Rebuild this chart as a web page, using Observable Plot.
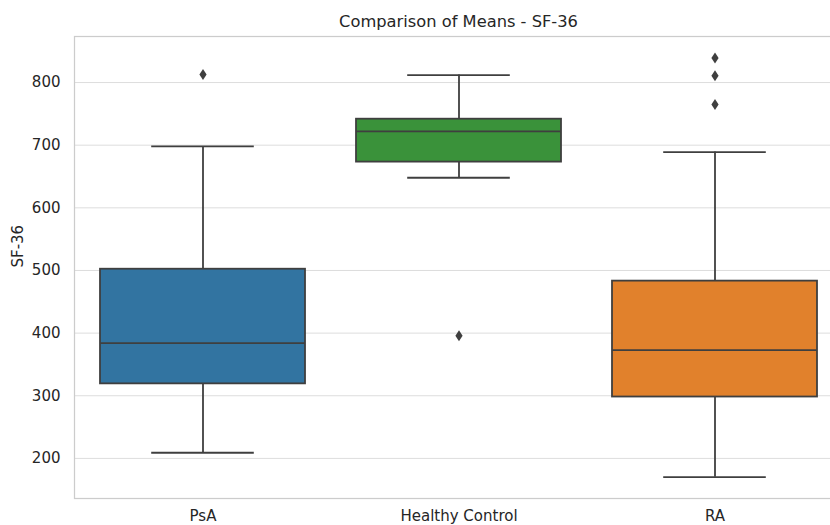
<!DOCTYPE html>
<html>
<head>
<meta charset="utf-8">
<script src="https://cdn.jsdelivr.net/npm/d3@7"></script>
<script src="https://cdn.jsdelivr.net/npm/@observablehq/plot@0.6"></script>
<style>
  html, body { margin: 0; padding: 0; background: #fff; overflow: hidden; }
</style>
</head>
<body>
<div id="chart"></div>
<script>
// Box-plot summary per group (SF-36 score)
const groups = ["PsA", "Healthy Control", "RA"];
const lowerWhisker = [209, 648, 170];
const q1 = [319, 673, 298];
const median = [384, 722, 373];
const q3 = [502, 741.5, 483];
const upperWhisker = [698, 812, 689];

// Points beyond the whiskers
const outlierGroup = ["PsA", "Healthy Control", "RA", "RA", "RA"];
const outlierValue = [813, 396, 839, 811, 765];

const yTicks = [200, 300, 400, 500, 600, 700, 800];
const colors = ["#3274a1", "#3a923a", "#e1812c"];
const title = "Comparison of Means - SF-36";
const yLabel = "SF-36";

const stats = groups.map((g, i) => ({
  group: g,
  lo: lowerWhisker[i],
  q1: q1[i],
  median: median[i],
  q3: q3[i],
  hi: upperWhisker[i]
}));
const outliers = outlierGroup.map((g, i) => ({ group: g, value: outlierValue[i] }));

// Narrow diamond marker for outliers
const thinDiamond = {
  draw(context) {
    context.moveTo(0, -5.5);
    context.lineTo(3.6, 0);
    context.lineTo(0, 5.5);
    context.lineTo(-3.6, 0);
    context.closePath();
  }
};

const line = "#3f3f3f";
const lw = 1.8;

const chart = Plot.plot({
  width: 850,
  height: 525,
  marginTop: 36,
  marginBottom: 27,
  marginLeft: 74,
  marginRight: 8,
  style: {
    fontFamily: "'DejaVu Sans', sans-serif",
    fontSize: "15px",
    color: "#262626",
    background: "#fff",
    maxWidth: "none"
  },
  x: { domain: groups, paddingInner: 0.2, paddingOuter: 0.1, label: null },
  y: { domain: [136, 873.5], label: null },
  color: { domain: groups, range: colors },
  marks: [
    Plot.gridY(yTicks, { stroke: "#dddddd", strokeOpacity: 1, strokeWidth: 1 }),
    Plot.axisY(yTicks, { tickSize: 0, tickPadding: 14, label: null, fontSize: 15 }),
    Plot.axisX({ tickSize: 0, tickPadding: 12, label: null, fontSize: 15 }),
    Plot.ruleX(stats, { x: "group", y1: "lo", y2: "q1", stroke: line, strokeWidth: lw }),
    Plot.ruleX(stats, { x: "group", y1: "q3", y2: "hi", stroke: line, strokeWidth: lw }),
    Plot.tickY(stats, { x: "group", y: "lo", stroke: line, strokeWidth: lw, insetLeft: 51.2, insetRight: 51.2 }),
    Plot.tickY(stats, { x: "group", y: "hi", stroke: line, strokeWidth: lw, insetLeft: 51.2, insetRight: 51.2 }),
    Plot.barY(stats, { x: "group", y1: "q1", y2: "q3", fill: "group", stroke: line, strokeWidth: lw }),
    Plot.tickY(stats, { x: "group", y: "median", stroke: line, strokeWidth: lw }),
    Plot.dot(outliers, { x: "group", y: "value", symbol: thinDiamond, fill: line, stroke: "none" }),
    Plot.frame({ stroke: "#cccccc", strokeWidth: 1.25 }),
    Plot.text([title], { text: d => d, frameAnchor: "top", lineAnchor: "middle", dy: -15, fontSize: 16.3, fill: "#262626" }),
    Plot.text([yLabel], { text: d => d, frameAnchor: "left", dx: -56, rotate: -90, fontSize: 15, fill: "#262626" })
  ]
});

document.getElementById("chart").appendChild(chart);
</script>
</body>
</html>
